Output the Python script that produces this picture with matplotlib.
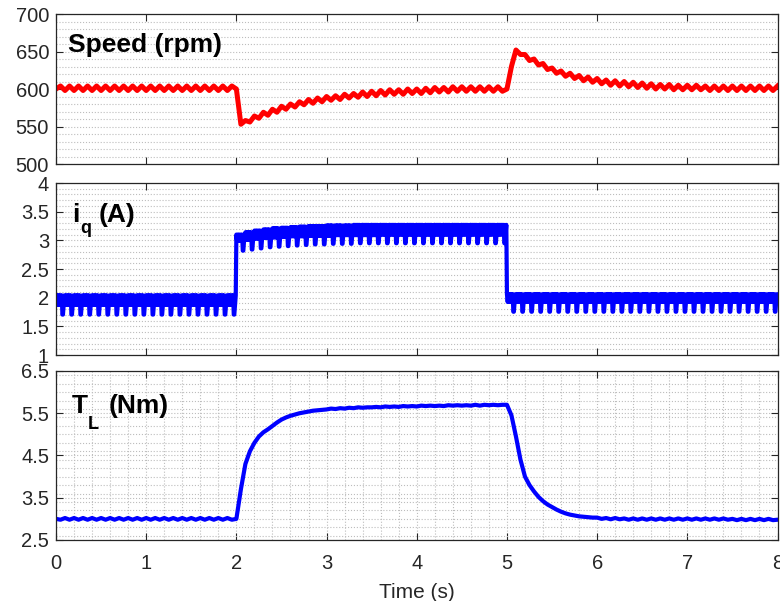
import numpy as np
import matplotlib
matplotlib.use('Agg')
import matplotlib.pyplot as plt
from matplotlib.ticker import MultipleLocator

plt.rcParams['font.family'] = ['Liberation Sans', 'DejaVu Sans']

# speed and load torque: samples every 0.05 s
speed_0_2 = [600, 604, 598, 604, 598, 604, 598, 604, 598, 604,
             598, 604, 598, 604, 598, 604, 598, 604, 598, 604,
             598, 604, 598, 604, 598, 604, 598, 604, 598, 604,
             598, 604, 598, 604, 598, 604, 598, 604, 598, 604]
speed_2_5 = [600, 553, 558, 556, 564, 561, 569, 565, 573, 569,
             577, 573, 580, 576, 583, 579, 586, 581, 588, 583,
             590, 585, 591, 586, 593, 588, 594, 589, 596, 590,
             597, 591, 598, 592, 599, 593, 599, 593, 600, 594,
             600, 594, 601, 595, 602, 596, 602, 596, 603, 597,
             603, 597, 603, 597, 603, 597, 603, 597, 603, 597]
speed_5_8 = [600, 630, 652, 646, 646, 638, 640, 632, 634, 626,
             628, 621, 624, 617, 621, 614, 618, 611, 616, 609,
             614, 607, 612, 605, 611, 604, 610, 603, 609, 602,
             608, 601, 607, 600, 606, 600, 606, 599, 605, 599,
             605, 599, 605, 599, 604, 598, 604, 598, 604, 598,
             604, 598, 604, 598, 604, 598, 604, 598, 604, 598,
             604]

tl_0_2 = [3.0, 2.98, 3.02, 2.98, 3.02, 2.98, 3.02, 2.98, 3.02, 2.98,
          3.02, 2.98, 3.02, 2.98, 3.02, 2.98, 3.02, 2.98, 3.02, 2.98,
          3.02, 2.98, 3.02, 2.98, 3.02, 2.98, 3.02, 2.98, 3.02, 2.98,
          3.02, 2.98, 3.02, 2.98, 3.02, 2.98, 3.02, 2.98, 3.02, 2.98]
tl_2_5 = [3.0, 3.7, 4.3, 4.6, 4.8, 4.95, 5.05, 5.12, 5.2, 5.28, 5.35,
          5.40, 5.44, 5.47, 5.50, 5.52, 5.54, 5.56, 5.57, 5.58, 5.59,
          5.61, 5.60, 5.62, 5.61, 5.63, 5.62, 5.64, 5.63, 5.64, 5.64,
          5.65, 5.64, 5.66, 5.65, 5.66, 5.65, 5.67, 5.66, 5.67, 5.66,
          5.68, 5.67, 5.68, 5.67, 5.68, 5.67, 5.69, 5.68, 5.69, 5.68,
          5.69, 5.68, 5.70, 5.68, 5.70, 5.69, 5.70, 5.69, 5.70]
tl_5_8 = [5.70, 5.45, 4.95, 4.4, 4.0, 3.8, 3.65, 3.52, 3.42, 3.34,
          3.28, 3.22, 3.17, 3.13, 3.10, 3.08, 3.06, 3.05, 3.04, 3.03,
          3.03, 3.00, 3.02, 2.99, 3.02, 2.99, 3.01, 2.98, 3.01, 2.98,
          3.01, 2.98, 3.01, 2.98, 3.01, 2.98, 3.01, 2.98, 3.01, 2.98,
          3.01, 2.98, 3.01, 2.98, 3.01, 2.98, 3.01, 2.98, 3.01, 2.98,
          3.00, 2.97, 3.00, 2.97, 3.00, 2.97, 3.00, 2.97, 3.00, 2.97,
          2.98]

# i_q: per 0.1 s ripple cycle -> upper level, lower edge of the band, dip level
iq_hi = [2.04] * 20 + [3.10, 3.14, 3.17, 3.19, 3.21, 3.22, 3.23, 3.24, 3.25, 3.25,
                       3.26, 3.26, 3.26, 3.27, 3.27, 3.27, 3.27, 3.27, 3.27, 3.27,
                       3.27, 3.27, 3.27, 3.27, 3.27, 3.27, 3.27, 3.27, 3.27, 3.27] + [2.06] * 30
iq_mid = [1.875] * 20 + [2.99, 3.01, 3.03, 3.04, 3.05, 3.06, 3.07, 3.07, 3.08, 3.08,
                         3.08, 3.09, 3.09, 3.09, 3.09, 3.09, 3.10, 3.10, 3.10, 3.10,
                         3.10, 3.10, 3.10, 3.10, 3.10, 3.10, 3.10, 3.10, 3.10, 3.10] + [1.925] * 30
iq_lo = [1.705] * 20 + [2.82, 2.84, 2.86, 2.88, 2.89, 2.90, 2.91, 2.92, 2.93, 2.93,
                        2.94, 2.94, 2.94, 2.95, 2.95, 2.95, 2.95, 2.95, 2.95, 2.95,
                        2.95, 2.95, 2.95, 2.95, 2.95, 2.95, 2.95, 2.95, 2.95, 2.95] + [1.755] * 30
# drawing shape of one ripple cycle (time offset, which level)
cycle_dt = [0, .008, .016, .024, .032, .040, .048, .056, .064, .071, .077, .085, .093]
cycle_lv = ['hi', 'mid', 'hi', 'mid', 'hi', 'mid', 'hi', 'mid', 'hi', 'lo', 'lo', 'mid', 'hi']

speed = speed_0_2 + speed_2_5 + speed_5_8
tl = tl_0_2 + tl_2_5 + tl_5_8
assert len(speed) == len(tl) == 161
assert len(iq_hi) == len(iq_mid) == len(iq_lo) == 80
t = np.linspace(0, 8, 161)

levels = {'hi': iq_hi, 'mid': iq_mid, 'lo': iq_lo}
t_iq, v_iq = [], []
for k in range(80):
    for dt, lv in zip(cycle_dt, cycle_lv):
        t_iq.append(k * 0.1 + dt)
        v_iq.append(levels[lv][k])
t_iq.append(8.0)
v_iq.append(iq_hi[-1])

fig = plt.figure(figsize=(7.8, 6.01), dpi=100)
W, H = 780, 601
left, width = 0.0718, 0.925
ax1 = fig.add_axes([left, 0.7271, width, 0.2496])
ax2 = fig.add_axes([left, 0.4093, width, 0.2862])
ax3 = fig.add_axes([left, 0.1015, width, 0.2812])

dark = '#262626'
grid_kw = dict(color='#bdbdbd', linestyle=':', linewidth=0.8)

ax1.plot(t, speed, color='red', linewidth=3.6, solid_joinstyle='round')
ax1.set_ylim(500, 700)
ax1.yaxis.set_minor_locator(MultipleLocator(10))

ax2.plot(t_iq, v_iq, color='blue', linewidth=3.0, solid_joinstyle='round')
ax2.set_ylim(1, 4)
ax2.yaxis.set_minor_locator(MultipleLocator(0.1))

ax3.plot(t, tl, color='blue', linewidth=3.0, solid_joinstyle='round')
ax3.set_ylim(2.5, 6.5)
ax3.yaxis.set_minor_locator(MultipleLocator(0.2))
ax3.xaxis.set_minor_locator(MultipleLocator(0.2))
ax3.set_xlabel('Time (s)', fontsize=15, color=dark, labelpad=7)

# panel titles (bold, with subscripts placed like the original)
bold = dict(fontweight='bold', va='baseline', color='black')
fig.text(68 / W, 1 - 52 / H, 'Speed (rpm)', fontsize=19, **bold)
fig.text(72 / W, 1 - 222 / H, 'i', fontsize=19, **bold)
fig.text(80 / W, 1 - 233 / H, 'q', fontsize=13, **bold)
fig.text(99 / W, 1 - 222 / H, '(A)', fontsize=19, **bold)
fig.text(72 / W, 1 - 413 / H, 'T', fontsize=19, **bold)
fig.text(88 / W, 1 - 429 / H, 'L', fontsize=13, **bold)
fig.text(109 / W, 1 - 413 / H, '(Nm)', fontsize=19, **bold)

yticks = {ax1: [500, 550, 600, 650, 700],
          ax2: [1, 1.5, 2, 2.5, 3, 3.5, 4],
          ax3: [2.5, 3.5, 4.5, 5.5, 6.5]}
ylabels = {ax1: ['500', '550', '600', '650', '700'],
           ax2: ['1', '1.5', '2', '2.5', '3', '3.5', '4'],
           ax3: ['2.5', '3.5', '4.5', '5.5', '6.5']}

for ax in (ax1, ax2, ax3):
    ax.set_xlim(0, 8)
    ax.xaxis.set_major_locator(MultipleLocator(1))
    ax.set_yticks(yticks[ax])
    ax.set_yticklabels(ylabels[ax])
    ax.tick_params(which='both', direction='in', top=True, right=True,
                   colors=dark, labelsize=14.5, length=5, width=0.8)
    ax.tick_params(axis='y', pad=5)
    ax.tick_params(axis='x', pad=10)
    ax.tick_params(which='minor', length=0)
    for s in ax.spines.values():
        s.set_color(dark)
        s.set_linewidth(0.9)
    ax.set_axisbelow(True)
    ax.grid(which='minor', axis='y', **grid_kw)
    ax.grid(which='major', axis='y', **grid_kw)

ax1.set_xticklabels([])
ax2.set_xticklabels([])
ax3.grid(which='both', axis='x', **grid_kw)

fig.savefig('out.png', dpi=100)
